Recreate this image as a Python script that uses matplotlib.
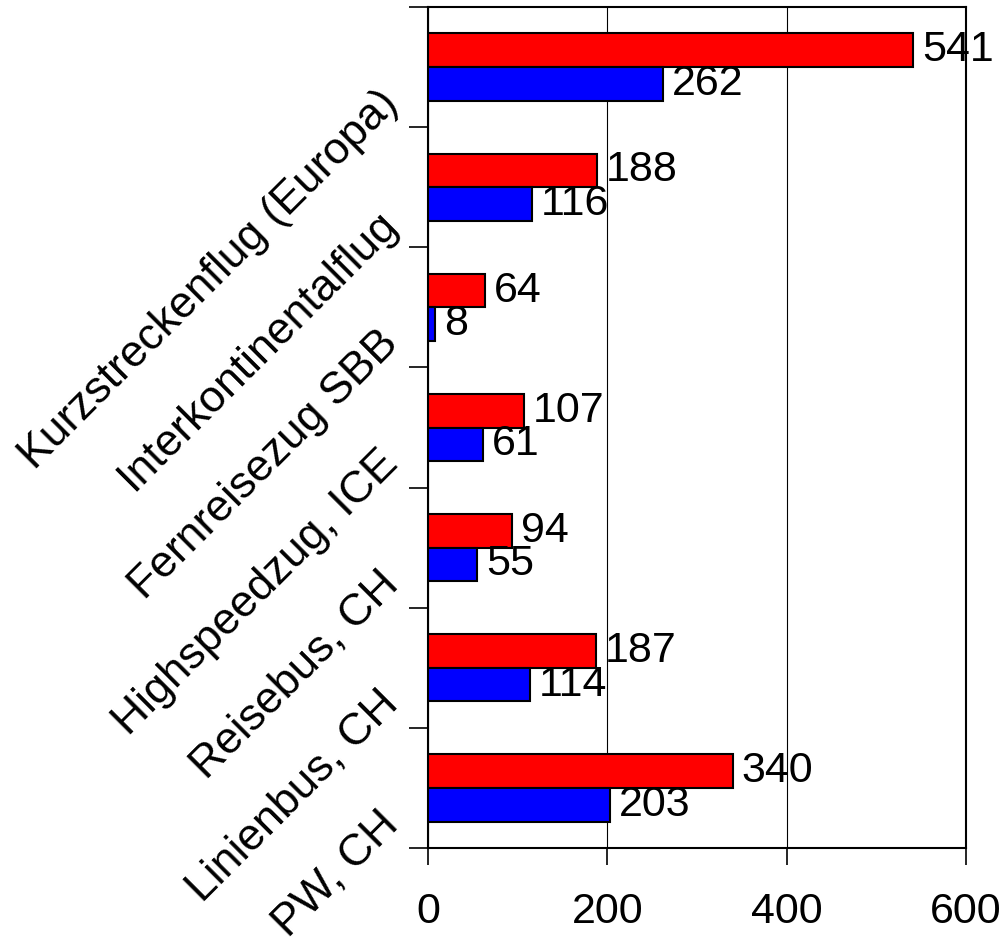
import matplotlib
matplotlib.use("Agg")
import matplotlib.pyplot as plt
import matplotlib.transforms as mtransforms
import numpy as np

categories = ["Kurzstreckenflug (Europa)", "Interkontinentalflug", "Fernreisezug SBB",
              "Highspeedzug, ICE", "Reisebus, CH", "Linienbus, CH", "PW, CH"]
red_values = [541, 188, 64, 107, 94, 187, 340]
blue_values = [262, 116, 8, 61, 55, 114, 203]
x_ticks = [0, 200, 400, 600]

plt.rcParams['font.family'] = ['Liberation Sans', 'DejaVu Sans']
FS_NUM = 31
FS_CAT = 32

fig = plt.figure(figsize=(10.06, 9.39), dpi=100)
ax = fig.add_axes([0.4254, 0.0969, 0.5348, 0.8956])

y = np.arange(len(categories))
h = 0.28
ax.barh(y - h / 2, red_values, height=h, color='#ff0000', edgecolor='black', linewidth=1.5, zorder=3)
ax.barh(y + h / 2, blue_values, height=h, color='#0000ff', edgecolor='black', linewidth=1.5, zorder=3)

for yi, v in zip(y, red_values):
    ax.text(v + 10, yi - h / 2, str(v), va='center', ha='left', fontsize=FS_NUM, zorder=4, clip_on=False)
for yi, v in zip(y, blue_values):
    ax.text(v + 10, yi + h / 2, str(v), va='center', ha='left', fontsize=FS_NUM, zorder=4, clip_on=False)

ax.set_xlim(0, 600)
ax.set_ylim(len(categories) - 0.5, -0.5)

ax.set_xticks(x_ticks)
ax.set_xticklabels([str(t) for t in x_ticks], fontsize=FS_NUM)
ax.tick_params(axis='x', direction='out', length=12, width=1.2, pad=20)
ax.grid(axis='x', color='black', linewidth=0.8, zorder=0)

ax.set_yticks(y)
ax.set_yticklabels(categories, fontsize=FS_CAT, rotation=45, ha='right', va='center',
                   rotation_mode='anchor')
ax.tick_params(axis='y', which='major', length=0, pad=14)
ax.set_yticks(np.arange(-0.5, len(categories), 1.0), minor=True)
ax.tick_params(axis='y', which='minor', direction='out', length=14, width=1.2)

# hang the slanted category names a little below their bar groups
shift = mtransforms.ScaledTranslation(-0.17, -0.30, fig.dpi_scale_trans)
for lbl in ax.get_yticklabels():
    lbl.set_transform(lbl.get_transform() + shift)

for s in ax.spines.values():
    s.set_linewidth(1.5)
    s.set_color('black')

fig.savefig("out.png", dpi=100)
